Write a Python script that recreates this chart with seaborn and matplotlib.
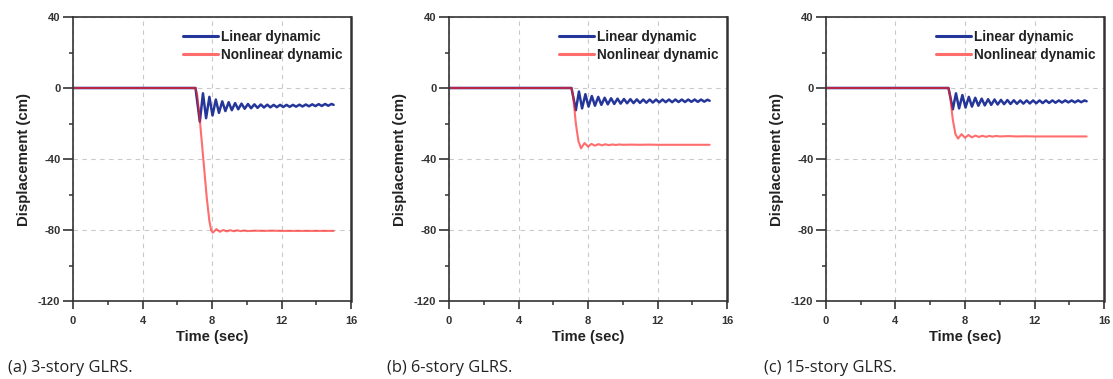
import numpy as np
import pandas as pd
import matplotlib
matplotlib.use("Agg")
import matplotlib.pyplot as plt
import seaborn as sns
from matplotlib.ticker import MultipleLocator

# ---- data ----
t_lin = [0, 7.05, 7.3, 7.48, 7.66, 7.85, 8.03, 8.22, 8.4, 8.59, 8.77, 8.96, 9.14, 9.33,
         9.51, 9.7, 9.88, 10.07, 10.25, 10.44, 10.62, 10.81, 10.99, 11.18, 11.36, 11.55,
         11.73, 11.92, 12.1, 12.29, 12.47, 12.66, 12.84, 13.03, 13.21, 13.4, 13.58, 13.77,
         13.95, 14.14, 14.32, 14.51, 14.69, 14.88, 15.0]

a_lin = [0, 0, -19, -3, -17, -5, -15.5, -6.5, -14, -7.5, -13, -8, -12.5, -8.5, -12, -8.8,
         -11.7, -9, -11.4, -9.2, -11.2, -9.3, -11, -9.4, -10.9, -9.5, -10.8, -9.5, -10.7,
         -9.5, -10.6, -9.5, -10.5, -9.4, -10.4, -9.3, -10.3, -9.2, -10.2, -9.1, -10.1,
         -9.0, -10.0, -9.0, -9.5]
b_lin = [0, 0, -12.5, -2, -11.5, -3.5, -10.5, -4.5, -10, -5, -9.5, -5.5, -9.2, -5.8, -9,
         -6, -8.8, -6.2, -8.6, -6.3, -8.5, -6.4, -8.4, -6.5, -8.3, -6.5, -8.2, -6.5, -8.1,
         -6.5, -8.0, -6.5, -8.0, -6.5, -7.9, -6.5, -7.9, -6.5, -7.8, -6.5, -7.8, -6.5,
         -7.7, -6.6, -7.2]
c_lin = [0, 0, -12, -3, -11.5, -4, -11, -5, -10.5, -5.5, -10, -6, -9.8, -6.3, -9.5, -6.5,
         -9.3, -6.7, -9.1, -6.8, -9, -6.9, -8.9, -7, -8.8, -7, -8.7, -7, -8.6, -7, -8.5,
         -7, -8.4, -7, -8.3, -7, -8.2, -7, -8.1, -7, -8.1, -7, -8.0, -7, -7.5]

t_nl_a = [0, 7.05, 7.15, 7.3, 7.5, 7.7, 7.85, 7.95, 8.05, 8.25, 8.45, 8.65, 8.85, 9.05,
          9.25, 9.45, 9.65, 9.85, 10.05, 10.5, 11, 11.5, 12, 13, 14, 15]
a_nl = [0, 0, -4, -18, -40, -62, -75, -80, -81.5, -79.5, -81, -80, -80.8, -80.1, -80.7,
        -80.2, -80.6, -80.3, -80.6, -80.4, -80.5, -80.4, -80.5, -80.5, -80.5, -80.5]

t_nl_bc = [0, 7.05, 7.15, 7.3, 7.45, 7.6, 7.8, 8.0, 8.2, 8.4, 8.6, 8.8, 9.0, 9.2, 9.4,
           9.6, 9.8, 10.0, 10.5, 11, 11.5, 12, 13, 14, 15]
b_nl = [0, 0, -5, -20, -30, -34, -31, -33, -31.5, -32.5, -31.6, -32.3, -31.7, -32.2,
        -31.8, -32.1, -31.8, -32, -31.9, -32, -31.9, -32, -32, -32, -32]
c_nl = [0, 0, -5, -18, -26, -28.5, -26, -28, -26.5, -27.8, -26.8, -27.6, -26.9, -27.5,
        -27, -27.4, -27, -27.3, -27.1, -27.3, -27.2, -27.3, -27.3, -27.3, -27.3]

captions = ["(a) 3-story GLRS.", "(b) 6-story GLRS.", "(c) 15-story GLRS."]
series_names = ["Linear dynamic", "Nonlinear dynamic"]
x_ticks = [0, 4, 8, 12, 16]
y_ticks = [-120, -80, -40, 0, 40]

panels = [
    (t_lin, a_lin, t_nl_a, a_nl),
    (t_lin, b_lin, t_nl_bc, b_nl),
    (t_lin, c_lin, t_nl_bc, c_nl),
]

# ---- drawing ----
sns.set_style("white")
plt.rcParams['font.family'] = ['Liberation Sans', 'DejaVu Sans']
plt.rcParams['axes.unicode_minus'] = False

fig = plt.figure(figsize=(11.13, 3.79), dpi=100)
lefts = [73, 449, 826]
cap_x = [8, 387, 764]
W, H = 1113, 379
blue = "#25369a"
red = "#ff1f1f"

for i, (tl, yl, tn, yn) in enumerate(panels):
    ax = fig.add_axes([lefts[i] / W, 1 - 301 / H, 278 / W, 284 / H])
    d1 = pd.DataFrame({"Time": tl, "Disp": yl})
    d2 = pd.DataFrame({"Time": tn, "Disp": yn})
    sns.lineplot(data=d1, x="Time", y="Disp", ax=ax, color=blue, lw=1.8,
                 sort=False, estimator=None, label=series_names[0])
    sns.lineplot(data=d2, x="Time", y="Disp", ax=ax, color=red, lw=1.5, alpha=0.65,
                 sort=False, estimator=None, label=series_names[1])
    ax.set_xlim(0, 16)
    ax.set_ylim(-120, 40)
    ax.set_xticks(x_ticks)
    ax.set_yticks(y_ticks)
    ax.xaxis.set_minor_locator(MultipleLocator(2))
    ax.yaxis.set_minor_locator(MultipleLocator(20))
    ax.grid(True, which="major", ls=(0, (4, 4)), color="#c9c9c9", lw=0.8)
    ax.set_axisbelow(True)
    ax.tick_params(which="both", left=True, bottom=True, color="#333333")
    ax.tick_params(axis="x", which="major", direction="out", length=6, width=1.2,
                   labelsize=8, pad=5)
    ax.tick_params(axis="y", which="major", direction="out", length=7, width=1.2,
                   labelsize=8, pad=2)
    ax.tick_params(which="minor", direction="out", length=3, width=1.1)
    for lab in ax.get_xticklabels() + ax.get_yticklabels():
        lab.set_fontweight("bold")
        lab.set_color("#333333")
    for s in ax.spines.values():
        s.set_color("#333333")
        s.set_linewidth(1.2)
    ax.spines["right"].set_linewidth(1.8)
    ax.set_xlabel("Time (sec)", fontsize=10.5, fontweight="bold", labelpad=3,
                  color="#222222")
    ax.set_ylabel("Displacement (cm)", fontsize=10.8, fontweight="bold", labelpad=5,
                  color="#222222")
    leg = ax.legend(loc="upper right", frameon=False, fontsize=9.8, handlelength=2.6,
                    labelspacing=0.3, borderaxespad=0.25, handletextpad=0.2,
                    bbox_to_anchor=(1.0, 0.985))
    for h in leg.get_lines():
        h.set_linewidth(2.2)
    for tx in leg.get_texts():
        tx.set_fontweight("bold")
        tx.set_color("#222222")
    fig.text(cap_x[i] / W, 1 - 368 / H, captions[i], fontsize=11.8,
             family=["Open Sans", "DejaVu Sans"], va="center", ha="left", color="#222222")

fig.savefig("out.png", dpi=100)
